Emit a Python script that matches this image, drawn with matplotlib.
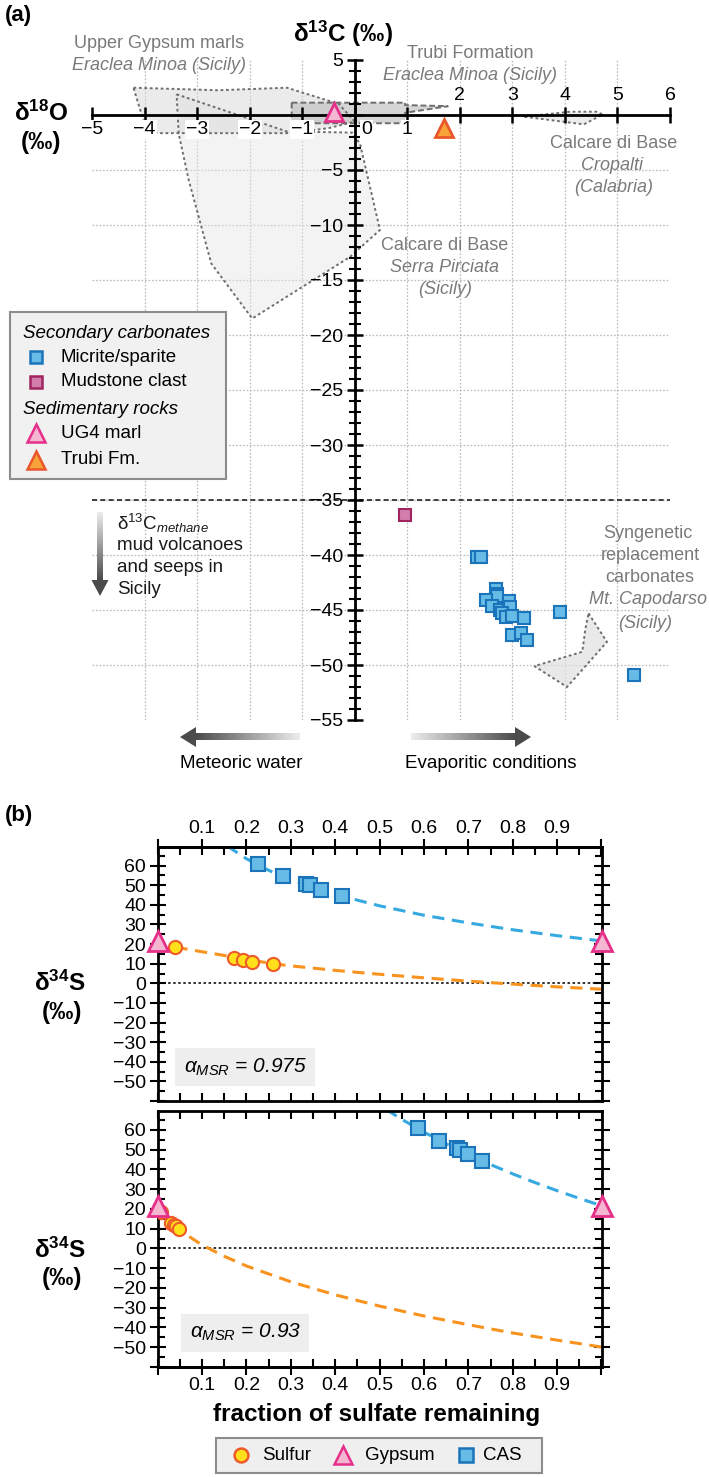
"""Carbonate C-O isotopes (a) and Rayleigh sulfur isotope models (b)."""

import matplotlib

matplotlib.use("Agg")
import matplotlib.pyplot as plt
import numpy as np
from matplotlib.colors import LinearSegmentedColormap
from matplotlib.patches import Polygon, Rectangle
from matplotlib.ticker import FixedLocator, FuncFormatter, MultipleLocator

plt.rcParams["font.family"] = ["Liberation Sans", "DejaVu Sans"]
plt.rcParams["mathtext.fontset"] = "custom"
plt.rcParams["mathtext.rm"] = "Liberation Sans"
plt.rcParams["mathtext.it"] = "Liberation Sans:italic"
plt.rcParams["mathtext.bf"] = "Liberation Sans:bold"

W, H = 709, 1477

# ---------------- panel (a) data ----------------
micrite_d18o = [2.32, 2.40, 2.68, 2.70, 2.71, 2.49, 2.61, 2.77, 2.93, 2.95,
                2.80, 2.87, 2.99, 3.23, 2.99, 3.17, 3.28, 3.91, 5.31]
micrite_d13c = [-40.15, -40.2, -43.1, -43.5, -43.7, -44.1, -44.6, -45.0, -44.2, -44.75,
                -45.3, -45.6, -45.5, -45.7, -47.3, -47.1, -47.7, -45.2, -50.9]
mudstone_d18o = [0.95]
mudstone_d13c = [-36.4]
ug4_d18o = [-0.4]
ug4_d13c = [0.3]
trubi_d18o = [1.69]
trubi_d13c = [-1.2]

serra_field_x = [-3.39, -1.29, -0.05, 0.1, 0.26, 0.48, -0.09, -1.95, -2.73, -3.16, -3.35]
serra_field_y = [1.88, -1.5, -1.6, -2.6, -5.9, -10.45, -12.9, -18.5, -13.5, -5.9, -1.7]
ug_marls_field_x = [-4.21, -2.6, -1.29, -0.3, 0.0, -0.5, -1.25, -3.95]
ug_marls_field_y = [2.48, 2.25, 2.48, 1.0, -0.6, -1.2, -1.65, -1.65]
trubi_field_x = [-1.2, 0.96, 0.96, 1.78, 0.96, 0.96, -1.2]
trubi_field_y = [1.12, 1.12, 0.9, 0.8, 0.2, -0.75, -0.75]
cropalti_field_x = [3.22, 4.1, 4.6, 4.72, 4.36, 3.95]
cropalti_field_y = [-0.15, 0.3, 0.3, 0.05, -0.85, -0.6]
capodarso_field_x = [4.45, 4.8, 4.04, 3.42, 4.33, 4.39]
capodarso_field_y = [-45.3, -47.9, -52.0, -50.1, -48.8, -46.7]

methane_cutoff = -35

# ---------------- panel (b) data ----------------
gypsum_f = [0.0, 1.0]
gypsum_d34s = [21.6, 21.6]
cas_d34s = [60.7, 54.5, 50.8, 49.9, 47.8, 44.4]
sulfur_d34s = [18.6, 12.8, 12.0, 11.1, 9.8]

cas_f_975 = [0.226, 0.282, 0.334, 0.343, 0.369, 0.415]
sulfur_f_975 = [0.039, 0.172, 0.193, 0.213, 0.259]
cas_f_93 = [0.587, 0.633, 0.674, 0.681, 0.700, 0.730]
sulfur_f_93 = [0.008, 0.031, 0.036, 0.041, 0.048]

sulfate_curve_f_975 = [0.157, 0.2, 0.25, 0.3, 0.35, 0.4, 0.5, 0.6, 0.7, 0.8, 0.9, 1.0]
sulfate_curve_975 = [70.0, 63.5, 57.6, 52.8, 48.8, 45.3, 39.5, 34.7, 30.8, 27.3, 24.3, 21.6]
sulfide_curve_f_975 = [0.04, 0.1, 0.15, 0.2, 0.26, 0.3, 0.4, 0.5, 0.6, 0.7, 0.8, 0.9, 1.0]
sulfide_curve_975 = [18.4, 16.1, 14.2, 12.2, 10.0, 8.9, 6.6, 4.6, 2.8, 1.1, -0.4, -1.8, -3.0]

sulfate_curve_f_93 = [0.515, 0.55, 0.6, 0.65, 0.7, 0.75, 0.8, 0.85, 0.9, 0.95, 1.0]
sulfate_curve_93 = [70.2, 65.3, 58.8, 52.9, 47.4, 42.4, 37.7, 33.3, 29.2, 25.3, 21.6]
sulfide_curve_f_93 = [0.005, 0.01, 0.02, 0.05, 0.1, 0.15, 0.2, 0.3, 0.4, 0.5, 0.6, 0.7,
                      0.8, 0.9, 1.0]
sulfide_curve_93 = [19.3, 17.7, 15.0, 9.1, 1.7, -4.0, -8.9, -16.9, -23.5, -29.2, -34.2,
                    -38.6, -42.8, -46.4, -49.9]

# ---------------- styles ----------------
BLUE_FACE, BLUE_EDGE = "#66bce6", "#1b74ba"
MUD_FACE, MUD_EDGE = "#d27dab", "#a0245e"
PINK_FACE, PINK_EDGE = "#f4b6d0", "#e5308a"
ORANGE_FACE, ORANGE_EDGE = "#f8a23a", "#e9572b"
SULFUR_FACE, SULFUR_EDGE = "#ffe01a", "#ee5a2a"
CAS_LINE, SULFIDE_LINE = "#37a9e1", "#f7931e"
GRAY_TEXT = "#7a7a7a"
DOTS = (0, (1.4, 1.4))


def minus(v):
    return f"{int(round(v))}".replace("-", "\u2212")


def rect(x0, y0, x1, y1):
    return [x0 / W, 1 - y1 / H, (x1 - x0) / W, (y1 - y0) / H]


fig = plt.figure(figsize=(W / 100, H / 100), dpi=100)

# ================= panel (a) =================
ax = fig.add_axes(rect(92, 60, 670, 720))
ax.set_xlim(-5, 6)
ax.set_ylim(-55, 5)
ax.patch.set_alpha(0)

for gx in range(-4, 6):
    if gx != 0:
        ax.plot([gx, gx], [-55, 5], color="#bdbdbd", ls=DOTS, lw=0.9, zorder=0)
for gy in range(-50, 0, 5):
    ax.plot([-5, 6], [gy, gy], color="#bdbdbd", ls=DOTS, lw=0.9, zorder=0)

fields = [
    (serra_field_x, serra_field_y, "#e6e6e6", 0.45, DOTS),
    (ug_marls_field_x, ug_marls_field_y, "#d9d9d9", 0.5, DOTS),
    (trubi_field_x, trubi_field_y, "#bcbcbc", 0.6, (0, (3, 1.5))),
    (cropalti_field_x, cropalti_field_y, "#e0e0e0", 0.6, DOTS),
    (capodarso_field_x, capodarso_field_y, "#e0e0e0", 0.7, DOTS),
]
for fx_, fy_, col, alpha, ls in fields:
    ax.add_patch(Polygon(np.column_stack([fx_, fy_]), closed=True, facecolor=col,
                         alpha=alpha, edgecolor="none", zorder=1))
    ax.add_patch(Polygon(np.column_stack([fx_, fy_]), closed=True, facecolor="none",
                         edgecolor="#6e6e6e", lw=1.4, ls=ls, zorder=1.5))

ax.plot([-5, 6], [methane_cutoff, methane_cutoff], color="#222222", ls=(0, (3, 2)),
        lw=1.2, zorder=1)

for side in ("top", "right"):
    ax.spines[side].set_visible(False)
ax.spines["left"].set_position(("data", 0))
ax.spines["bottom"].set_position(("data", 0))
for side in ("left", "bottom"):
    ax.spines[side].set_linewidth(2)
    ax.spines[side].set_zorder(4)

ax.set_xticks(range(-5, 7))
ax.tick_params(axis="x", direction="inout", length=11, width=1.8, labelbottom=False)
ax.set_yticks(range(-55, 6, 5))
ax.yaxis.set_minor_locator(MultipleLocator(1))
ax.yaxis.set_major_formatter(FuncFormatter(lambda v, _: "" if v == 0 else minus(v)))
ax.tick_params(axis="y", which="major", direction="inout", length=11, width=1.8,
               labelsize=14, pad=3)
ax.tick_params(axis="y", which="minor", direction="inout", length=8, width=1.5)

for v in range(-5, 7):
    if v <= 1:
        ax.text(v + (0.22 if v == 0 else 0), -1.3, minus(v), ha="center", va="center",
                fontsize=14, zorder=3,
                bbox=dict(facecolor="white", edgecolor="none", pad=0.6))
    else:
        ax.text(v, 1.75, minus(v), ha="center", va="center", fontsize=14, zorder=3)

ax.plot(micrite_d18o, micrite_d13c, ls="none", marker="s", ms=8.5, mfc=BLUE_FACE,
        mec=BLUE_EDGE, mew=1.5, zorder=6)
ax.plot(mudstone_d18o, mudstone_d13c, ls="none", marker="s", ms=8.5, mfc=MUD_FACE,
        mec=MUD_EDGE, mew=1.5, zorder=6)
ax.plot(ug4_d18o, ug4_d13c, ls="none", marker="^", ms=13, mfc=PINK_FACE,
        mec=PINK_EDGE, mew=2, zorder=6)
ax.plot(trubi_d18o, trubi_d13c, ls="none", marker="^", ms=13, mfc=ORANGE_FACE,
        mec=ORANGE_EDGE, mew=2, zorder=6)


# ================= panel (b) =================
def sulfur_panel(box, cas_f, sulfur_f, curve_sf, curve_s, curve_pf, curve_p,
                 label, labels_top):
    axb = fig.add_axes(rect(*box))
    axb.set_xlim(0, 1)
    axb.set_ylim(-60, 69.5)
    for sp in axb.spines.values():
        sp.set_linewidth(2)
    axb.axhline(0, color="#222222", ls=DOTS, lw=1.3, zorder=1)
    axb.plot(curve_sf, curve_s, color=CAS_LINE, ls=(0, (4, 2.5)), lw=2.2, zorder=2)
    axb.plot(curve_pf, curve_p, color=SULFIDE_LINE, ls=(0, (4, 2.5)), lw=2.2, zorder=2)
    axb.plot(cas_f, cas_d34s, ls="none", marker="s", ms=9.5, mfc=BLUE_FACE,
             mec=BLUE_EDGE, mew=1.5, zorder=5)
    axb.plot(sulfur_f, sulfur_d34s, ls="none", marker="o", ms=9.5, mfc=SULFUR_FACE,
             mec=SULFUR_EDGE, mew=1.5, zorder=5)
    axb.plot(gypsum_f, gypsum_d34s, ls="none", marker="^", ms=14, mfc=PINK_FACE,
             mec=PINK_EDGE, mew=2, zorder=6, clip_on=False)

    xmaj = np.round(np.arange(0, 1.001, 0.1), 2)
    xmin = np.round(np.arange(0.05, 1, 0.1), 2)
    xfmt = FuncFormatter(lambda v, _: f"{v:.1f}" if 0.05 < v < 0.95 else "")
    axb.xaxis.set_major_locator(FixedLocator(xmaj))
    axb.xaxis.set_minor_locator(FixedLocator(xmin))
    axb.yaxis.set_major_locator(MultipleLocator(10))
    axb.yaxis.set_minor_locator(MultipleLocator(5))
    axb.yaxis.set_major_formatter(
        FuncFormatter(lambda v, _: minus(v) if -55 < v < 65 else ""))
    axb.tick_params(axis="y", which="major", direction="inout", length=11, width=1.5,
                    left=True, right=True, labelsize=14, pad=3)
    axb.tick_params(axis="y", which="minor", direction="in", length=5, width=1.5,
                    left=True, right=True)

    sec = axb.secondary_xaxis("top" if labels_top else "bottom")
    sec.xaxis.set_major_locator(FixedLocator(xmaj))
    sec.xaxis.set_minor_locator(FixedLocator(xmin))
    sec.xaxis.set_major_formatter(xfmt)
    sec.spines["top" if labels_top else "bottom"].set_linewidth(2)
    sec.tick_params(which="major", direction="inout", length=11, width=1.5,
                    labelsize=14, pad=2)
    sec.tick_params(which="minor", direction="in", length=6, width=1.5)
    # plain inward ticks on the unlabelled side
    if labels_top:
        axb.tick_params(axis="x", which="both", direction="in", length=6, width=1.5,
                        top=False, bottom=True, labelbottom=False)
    else:
        axb.tick_params(axis="x", which="both", direction="in", length=6, width=1.5,
                        top=True, bottom=False, labelbottom=False)

    axb.text(0.197, 0.134, label, transform=axb.transAxes, fontsize=15,
             style="italic", ha="center", va="center", zorder=4,
             bbox=dict(facecolor="#eeeeee", edgecolor="none", pad=6))
    return axb


sulfur_panel((157.7, 847, 601.5, 1101), cas_f_975, sulfur_f_975,
             sulfate_curve_f_975, sulfate_curve_975, sulfide_curve_f_975,
             sulfide_curve_975, r"$\alpha_{MSR}$ = 0.975", True)
sulfur_panel((157.7, 1111, 601.5, 1367), cas_f_93, sulfur_f_93,
             sulfate_curve_f_93, sulfate_curve_93, sulfide_curve_f_93,
             sulfide_curve_93, r"$\alpha_{MSR}$ = 0.93", False)

# ================= overlay (labels, legends, arrows) in pixel coords =================
ov = fig.add_axes([0, 0, 1, 1])
ov.axis("off")

arrow_cmap = LinearSegmentedColormap.from_list("arrow", ["#ededed", "#4b4b4b"])


def gradient_arrow(tail, tip, shaft_w, head_w, head_len):
    (x0, y0), (x1, y1) = tail, tip
    if y0 == y1:
        d = np.sign(x1 - x0)
        xb = x1 - d * head_len
        grad = np.linspace(0, 1, 256)
        if d < 0:
            grad = grad[::-1]
        ov.imshow(grad.reshape(1, -1), cmap=arrow_cmap, aspect="auto",
                  interpolation="bilinear",
                  extent=(min(x0, xb), max(x0, xb), y0 + shaft_w / 2, y0 - shaft_w / 2))
        head = [(x1, y1), (xb, y1 - head_w / 2), (xb, y1 + head_w / 2)]
    else:
        yb = y1 - head_len
        grad = np.linspace(0, 1, 256).reshape(-1, 1)
        ov.imshow(grad, cmap=arrow_cmap, aspect="auto", interpolation="bilinear",
                  origin="upper", extent=(x0 - shaft_w / 2, x0 + shaft_w / 2, yb, y0))
        head = [(x1, y1), (x1 - head_w / 2, yb), (x1 + head_w / 2, yb)]
    ov.add_patch(Polygon(head, closed=True, facecolor="#4b4b4b", edgecolor="none"))


gradient_arrow((100, 512), (100, 596), 6, 17, 16)
gradient_arrow((300, 737), (180, 737), 7, 20, 16)
gradient_arrow((411, 737), (531, 737), 7, 20, 16)

# panel (a) labels
ov.text(5, 15, "(a)", fontsize=16, fontweight="bold", va="center")
ov.text(343, 34, r"δ$^{\mathbf{13}}$C (‰)", fontsize=17.5, fontweight="bold",
        ha="center", va="center")
ov.text(41, 113, r"δ$^{\mathbf{18}}$O", fontsize=17.5, fontweight="bold",
        ha="center", va="center")
ov.text(41, 143, "(‰)", fontsize=17.5, fontweight="bold", ha="center", va="center")

gray_labels = [
    (159, 43, "Upper Gypsum marls", "normal"),
    (159, 66, "Eraclea Minoa (Sicily)", "italic"),
    (470, 53, "Trubi Formation", "normal"),
    (470, 76, "Eraclea Minoa (Sicily)", "italic"),
    (614, 143, "Calcare di Base", "normal"),
    (612, 166, "Cropalti", "italic"),
    (614, 188, "(Calabria)", "italic"),
    (445, 245, "Calcare di Base", "normal"),
    (445, 267, "Serra Pirciata", "italic"),
    (445, 290, "(Sicily)", "italic"),
    (648, 533, "Syngenetic", "normal"),
    (650, 555, "replacement", "normal"),
    (650, 577, "carbonates", "normal"),
    (648, 600, "Mt. Capodarso", "italic"),
    (645, 623, "(Sicily)", "italic"),
]
for px, py, txt, st in gray_labels:
    ov.text(px, py, txt, fontsize=13, color=GRAY_TEXT, style=st, ha="center",
            va="center")

for py, txt in [(523, "δ$^{13}$C$_{methane}$"), (545, "mud volcanoes"),
                (567, "and seeps in"), (589, "Sicily")]:
    ov.text(117, py, txt, fontsize=13.5, color="#1a1a1a", va="center")

ov.text(241, 763, "Meteoric water", fontsize=13.5, ha="center", va="center")
ov.text(491, 763, "Evaporitic conditions", fontsize=13.5, ha="center", va="center")

# panel (a) legend box
ov.add_patch(Rectangle((10, 312), 216, 167, facecolor="#f1f1f1", edgecolor="#8c8c8c",
                       lw=1.5, zorder=2))
ov.text(23, 333, "Secondary carbonates", fontsize=13.5, style="italic", va="center",
        zorder=3)
ov.text(23, 409, "Sedimentary rocks", fontsize=13.5, style="italic", va="center",
        zorder=3)
legend_a = [
    (357, "Micrite/sparite", "s", BLUE_FACE, BLUE_EDGE, 9),
    (382, "Mudstone clast", "s", MUD_FACE, MUD_EDGE, 9),
    (433, "UG4 marl", "^", PINK_FACE, PINK_EDGE, 13),
    (460, "Trubi Fm.", "^", ORANGE_FACE, ORANGE_EDGE, 13),
]
for py, txt, mk, fc, ec, ms in legend_a:
    ov.plot([36], [py], marker=mk, ms=ms, mfc=fc, mec=ec, mew=1.8, ls="none", zorder=3)
    ov.text(61, py, txt, fontsize=13.5, va="center", zorder=3)

# panel (b) labels
ov.text(5, 815, "(b)", fontsize=16, fontweight="bold", va="center")
for py in (983, 1250):
    ov.text(60, py, r"δ$^{\mathbf{34}}$S", fontsize=17.5, fontweight="bold",
            ha="center", va="center")
    ov.text(62, py + 29, "(‰)", fontsize=17.5, fontweight="bold", ha="center",
            va="center")
ov.text(377, 1414, "fraction of sulfate remaining", fontsize=17.5, fontweight="bold",
        ha="center", va="center")

# panel (b) legend
ov.add_patch(Rectangle((216, 1438), 326, 35, facecolor="#efefef", edgecolor="#8c8c8c",
                       lw=1.5, zorder=2))
legend_b = [
    (241, 262, "Sulfur", "o", SULFUR_FACE, SULFUR_EDGE, 10),
    (343, 365, "Gypsum", "^", PINK_FACE, PINK_EDGE, 13),
    (466, 483, "CAS", "s", BLUE_FACE, BLUE_EDGE, 10),
]
for mx, tx, txt, mk, fc, ec, ms in legend_b:
    ov.plot([mx], [1455], marker=mk, ms=ms, mfc=fc, mec=ec, mew=1.8, ls="none",
            zorder=3)
    ov.text(tx, 1455, txt, fontsize=13.5, va="center", zorder=3)

ov.set_xlim(0, W)
ov.set_ylim(H, 0)

fig.savefig("out.png", dpi=100, facecolor="white")
